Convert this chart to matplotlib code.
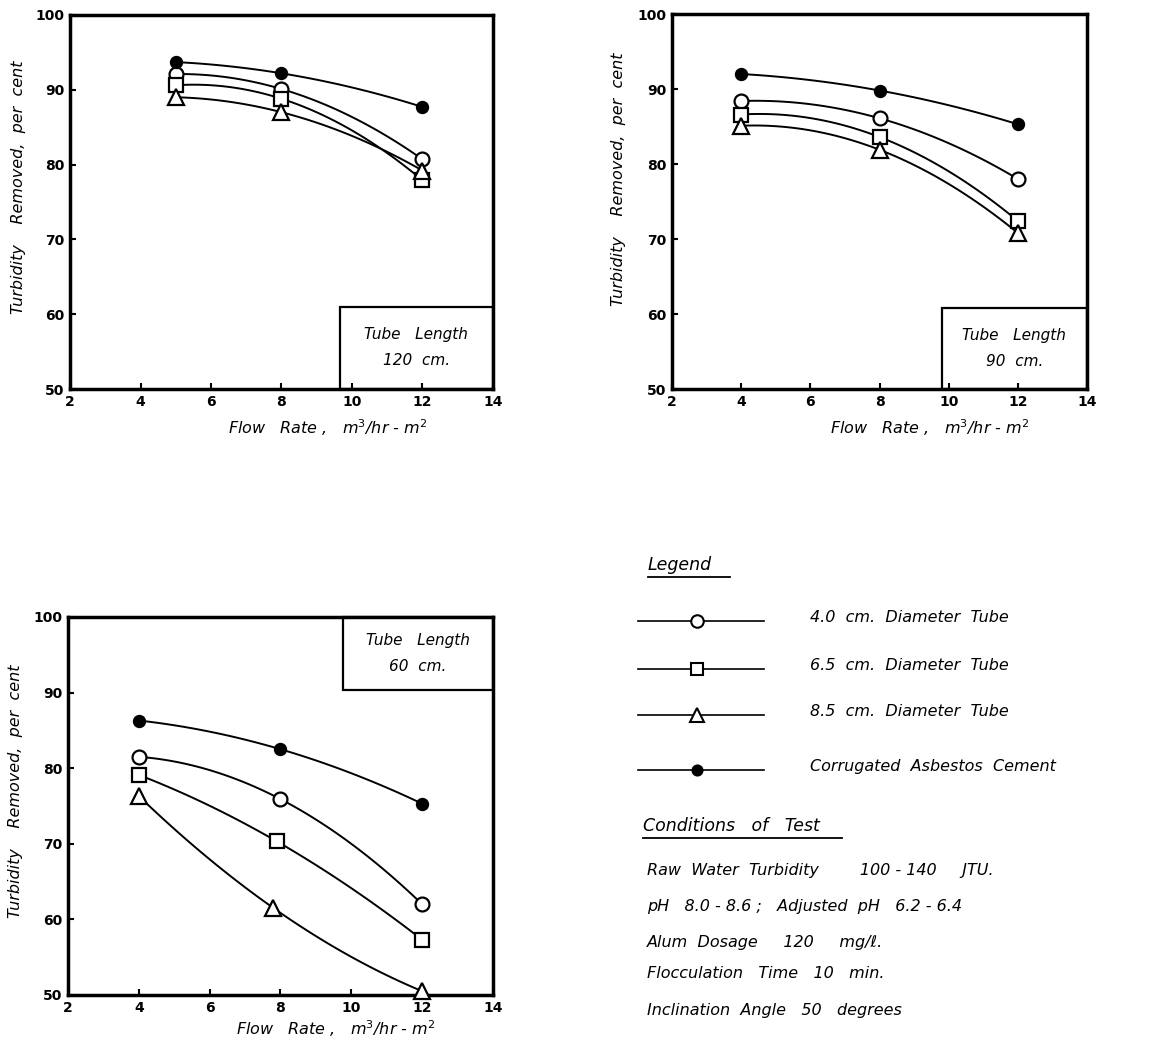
import matplotlib

matplotlib.use("Agg")
import matplotlib.pyplot as plt  # noqa: E402
import numpy as np  # noqa: E402
from matplotlib.patches import Rectangle  # noqa: E402

# data (flow rate m3/hr-m2 -> turbidity removed %)
series_names = ["4.0 cm", "6.5 cm", "8.5 cm", "corrugated"]

x_120 = [5, 8, 12]
y_120_circle = [92.1, 90.1, 80.7]
y_120_square = [90.6, 88.8, 77.9]
y_120_triangle = [89.0, 87.0, 79.2]
y_120_filled = [93.7, 92.2, 87.7]

x_90 = [4, 8, 12]
y_90_circle = [88.4, 86.1, 78.0]
y_90_square = [86.6, 83.6, 72.4]
y_90_triangle = [85.1, 81.9, 70.8]
y_90_filled = [92.0, 89.8, 85.3]

x_60_circle = [4, 8, 12]
x_60_square = [4, 7.9, 12]
x_60_triangle = [4, 7.8, 12]
x_60_filled = [4, 8, 12]
y_60_circle = [81.5, 75.9, 62.0]
y_60_square = [79.1, 70.3, 57.3]
y_60_triangle = [76.3, 61.5, 50.5]
y_60_filled = [86.3, 82.5, 75.3]

x_ticks = [2, 4, 6, 8, 10, 12, 14]
y_ticks = [50, 60, 70, 80, 90, 100]

legend_labels = [
    "4.0  cm.  Diameter  Tube",
    "6.5  cm.  Diameter  Tube",
    "8.5  cm.  Diameter  Tube",
    "Corrugated  Asbestos  Cement",
]
conditions = [
    "Raw  Water  Turbidity        100 - 140     JTU.",
    "pH   8.0 - 8.6 ;   Adjusted  pH   6.2 - 6.4",
    "Alum  Dosage     120     mg/\u2113.",
    "Flocculation   Time   10   min.",
    "Inclination  Angle   50   degrees",
]

STYLES = [
    dict(marker="o", mfc="white", ms=10),
    dict(marker="s", mfc="white", ms=9.5),
    dict(marker="^", mfc="white", ms=11),
    dict(marker="o", mfc="black", ms=8),
]

plt.rcParams["font.family"] = ["DejaVu Sans"]


def smooth(xs, ys):
    # quadratic through the three points, only for drawing the hand-faired curve
    c = np.polyfit(xs, ys, 2)
    xx = np.linspace(min(xs), max(xs), 60)
    return xx, np.polyval(c, xx)


def panel(fig, rect, xs_list, ys_list, box, box_text, xlab_pos, ylab_pos):
    ax = fig.add_axes(rect)
    for xs, ys, st in zip(xs_list, ys_list, STYLES):
        xx, yy = smooth(xs, ys)
        ax.plot(xx, yy, color="black", lw=1.4, zorder=2)
        ax.plot(xs, ys, ls="none", marker=st["marker"], mfc=st["mfc"], mec="black",
                mew=1.6, ms=st["ms"], zorder=3, clip_on=False)
    ax.set_xlim(2, 14)
    ax.set_ylim(50, 100)
    ax.set_xticks(x_ticks)
    ax.set_yticks(y_ticks)
    ax.tick_params(direction="in", length=4, width=1.5, labelsize=10, pad=4)
    for lab in ax.get_xticklabels() + ax.get_yticklabels():
        lab.set_fontweight("bold")
    for sp in ax.spines.values():
        sp.set_linewidth(2.5)
    bx0, by0, bx1, by1 = box
    ax.add_patch(Rectangle((bx0, by0), bx1 - bx0, by1 - by0, fill=False,
                           lw=1.6, ec="black", zorder=4, clip_on=False))
    ax.text((bx0 + bx1) / 2, (by0 + by1) / 2, box_text, ha="center", va="center",
            fontsize=11, style="italic", linespacing=1.9, zorder=5)
    ax.set_xlabel(r"Flow   Rate ,   m$^3$/hr - m$^2$", fontsize=11.5, style="italic")
    ax.xaxis.set_label_coords(*xlab_pos)
    ax.set_ylabel("Turbidity    Removed,  per  cent", fontsize=11.5, style="italic")
    ax.yaxis.set_label_coords(*ylab_pos)
    return ax


fig = plt.figure(figsize=(11.61, 10.46), dpi=100)

panel(fig, [0.0603, 0.6281, 0.3643, 0.3576],
      [x_120, x_120, x_120, x_120],
      [y_120_circle, y_120_square, y_120_triangle, y_120_filled],
      (9.65, 50, 14, 61), "Tube   Length\n120  cm.", (0.61, -0.075), (-0.105, 0.54))

panel(fig, [0.5788, 0.6281, 0.3575, 0.3585],
      [x_90, x_90, x_90, x_90],
      [y_90_circle, y_90_square, y_90_triangle, y_90_filled],
      (9.8, 50, 14, 60.8), "Tube   Length\n90  cm.", (0.62, -0.075), (-0.11, 0.56))

panel(fig, [0.0586, 0.0488, 0.3660, 0.3614],
      [x_60_circle, x_60_square, x_60_triangle, x_60_filled],
      [y_60_circle, y_60_square, y_60_triangle, y_60_filled],
      (9.77, 90.3, 14, 100), "Tube   Length\n60  cm.", (0.63, -0.062), (-0.105, 0.54))

# legend and test conditions, drawn in pixel coordinates
ov = fig.add_axes([0, 0, 1, 1])
ov.set_xlim(0, 1161)
ov.set_ylim(1046, 0)
ov.axis("off")

ov.text(648, 565, "Legend", fontsize=12.5, style="italic", va="center")
ov.plot([648, 730], [577, 577], color="black", lw=1.3)

row_y = [621, 669, 715, 770]
for yy, st, label in zip(row_y, STYLES, legend_labels):
    ov.plot([638, 764], [yy, yy], color="black", lw=1.2)
    ov.plot([697], [yy], ls="none", marker=st["marker"], mfc=st["mfc"], mec="black",
            mew=1.5, ms=st["ms"] * 0.9)
    ov.text(810, yy - 4, label, fontsize=11.5, style="italic", va="center")

ov.text(643, 826, "Conditions   of   Test", fontsize=12.5, style="italic", va="center")
ov.plot([643, 842], [838, 838], color="black", lw=1.3)

cond_y = [870, 907, 942, 973, 1010]
for yy, line in zip(cond_y, conditions):
    ov.text(647, yy, line, fontsize=11.5, style="italic", va="center")

fig.savefig("out.png", dpi=100)
